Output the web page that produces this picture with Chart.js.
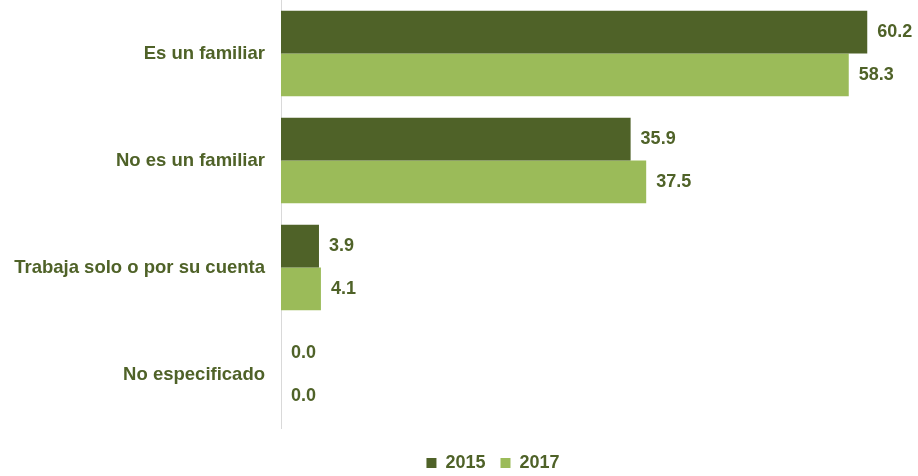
<!DOCTYPE html>
<html>
<head>
<meta charset="utf-8">
<script src="https://cdn.jsdelivr.net/npm/chart.js@4.4.1/dist/chart.umd.min.js"></script>
<style>
  html, body { margin: 0; padding: 0; background: #ffffff; }
  #wrap { width: 918px; height: 476px; position: relative; }
</style>
</head>
<body>
<div id="wrap"><canvas id="c"></canvas></div>
<script>
const categories = ["Es un familiar", "No es un familiar", "Trabaja solo o por su cuenta", "No especificado"];
const seriesNames = ["2015", "2017"];
const values2015 = [60.2, 35.9, 3.9, 0.0];
const values2017 = [58.3, 37.5, 4.1, 0.0];

const DARK = "#4F6228";
const LIGHT = "#9BBB59";
const TEXT = "#4F6228";
const FONT = "'Liberation Sans', Arial, sans-serif";
const LEGEND_SHIFT = 36;

const valueLabels = {
  id: "valueLabels",
  afterDatasetsDraw(chart) {
    const ctx = chart.ctx;
    ctx.save();
    ctx.font = "bold 18px " + FONT;
    ctx.fillStyle = TEXT;
    ctx.textAlign = "left";
    ctx.textBaseline = "middle";
    chart.data.datasets.forEach((ds, di) => {
      const meta = chart.getDatasetMeta(di);
      meta.data.forEach((bar, i) => {
        ctx.fillText(ds.data[i].toFixed(1), bar.x + 10, bar.y);
      });
    });
    ctx.restore();
  }
};

const legendShift = {
  id: "legendShift",
  afterLayout(chart) {
    if (chart.legend) {
      chart.legend.left += LEGEND_SHIFT;
      chart.legend.right += LEGEND_SHIFT;
    }
  }
};

new Chart(document.getElementById("c"), {
  type: "bar",
  data: {
    labels: categories,
    datasets: [
      { label: seriesNames[0], data: values2015, backgroundColor: DARK, borderWidth: 0 },
      { label: seriesNames[1], data: values2017, backgroundColor: LIGHT, borderWidth: 0 }
    ]
  },
  options: {
    indexAxis: "y",
    responsive: true,
    maintainAspectRatio: false,
    animation: false,
    layout: { padding: { top: 0, right: 4, bottom: -6, left: 0 } },
    datasets: { bar: { categoryPercentage: 0.8, barPercentage: 1.0 } },
    scales: {
      x: {
        min: 0, max: 65,
        display: true,
        ticks: { display: false },
        grid: { display: false },
        border: { display: false },
        afterFit(s) { s.height = 11; s.paddingLeft = 0; s.paddingRight = 0; }
      },
      y: {
        grid: { display: false },
        border: { display: true, color: "#d9d9d9", width: 1 },
        ticks: { color: TEXT, font: { family: FONT, size: 18.5, weight: "bold" }, padding: 8 },
        afterFit(s) { s.width = 281; s.paddingTop = 0; s.paddingBottom = 0; }
      }
    },
    plugins: {
      legend: {
        position: "bottom",
        labels: {
          color: TEXT,
          font: { family: FONT, size: 18, weight: "bold" },
          boxWidth: 10, boxHeight: 10, padding: 15
        }
      },
      tooltip: { enabled: false }
    }
  },
  plugins: [valueLabels, legendShift]
});
</script>
</body>
</html>
